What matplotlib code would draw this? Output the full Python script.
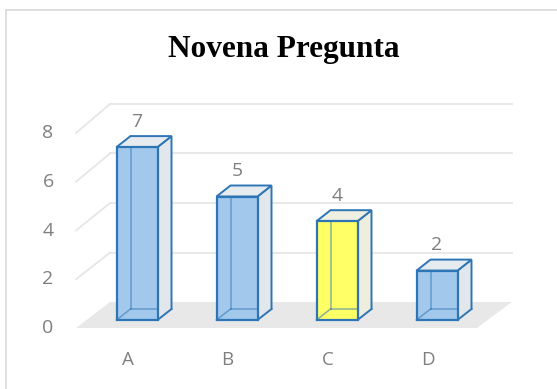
import matplotlib
matplotlib.use("Agg")
import matplotlib.pyplot as plt
from matplotlib.patches import Polygon
from matplotlib.lines import Line2D

categories = ["A", "B", "C", "D"]
values = [7, 5, 4, 2]
y_ticks = [0, 2, 4, 6, 8]
title = "Novena Pregunta"

W, H = 557, 389
fig = plt.figure(figsize=(W / 100, H / 100), dpi=100)
ax = fig.add_axes([0, 0, 1, 1])
ax.set_axis_off()

# pixel mapping: x_px = 137 + 100*i ; y_px(from top) = 320 - 24.7*v
PX_X, PX_Y = 100.0, 24.7
ax.set_xlim((0 - 137) / PX_X, (W - 137) / PX_X)
ax.set_ylim((320 - H) / PX_Y, 320 / PX_Y)

# chart frame (top and left)
fig.add_artist(Line2D([6 / W, 6 / W], [0, 1 - 10 / H], color="#D9D9D9", lw=1.2))
fig.add_artist(Line2D([6 / W, 1], [1 - 10 / H, 1 - 10 / H], color="#D9D9D9", lw=1.2))

# floor
f_front = -8 / PX_Y
f_back = 18 / PX_Y
xl_f, xr_f = (76 - 137) / PX_X, (477 - 137) / PX_X
xl_b, xr_b = (110 - 137) / PX_X, (512 - 137) / PX_X
ax.add_patch(Polygon([(xl_f, f_front), (xr_f, f_front), (xr_b, f_back), (xl_b, f_back)],
                     closed=True, facecolor="#E8E8E8", edgecolor="none", zorder=1))

# gridlines: back wall + left wall diagonals
front_step = (328 - 133) / 8 / PX_Y
back_step = (302 - 104) / 8 / PX_Y
for t in y_ticks:
    yb = f_back + t * back_step
    yf = f_front + t * front_step
    if t > 0:
        ax.plot([xl_b, xr_b], [yb, yb], color="#E6E6E6", lw=1.3, zorder=0.5)
        ax.plot([xl_f, xl_b], [yf, yb], color="#E6E6E6", lw=1.3, zorder=0.5)
    ax.text((48 - 137) / PX_X, yf, str(t), ha="center", va="center",
            fontsize=14, color="#7F7F7F", family="Open Sans")

# bars
half_w = 20.5 / PX_X
dx = 14 / PX_X
dy = 11 / PX_Y
edge = "#2E75B6"
for i, (cat, v) in enumerate(zip(categories, values)):
    highlight = cat == "C"
    front_c = "#FFFF66" if highlight else "#A2C8EC"
    side_c = "#EDEEDD" if highlight else "#E2E7EC"
    top_c = "#F0F0E2" if highlight else "#E6EBF0"
    x0, x1 = i - half_w, i + half_w
    y0, y1 = 0, v
    # hidden back edges
    ax.plot([x0 + dx, x0 + dx], [y0 + dy, y1 + dy], color=edge, lw=1.1, alpha=0.7, zorder=2)
    ax.plot([x0 + dx, x1 + dx], [y0 + dy, y0 + dy], color=edge, lw=1.1, alpha=0.7, zorder=2)
    ax.plot([x0, x0 + dx], [y0, y0 + dy], color=edge, lw=1.1, alpha=0.7, zorder=2)
    # side face
    ax.add_patch(Polygon([(x1, y0), (x1 + dx, y0 + dy), (x1 + dx, y1 + dy), (x1, y1)],
                         closed=True, facecolor=side_c, edgecolor=edge, lw=1.4, zorder=3))
    # top face
    ax.add_patch(Polygon([(x0, y1), (x1, y1), (x1 + dx, y1 + dy), (x0 + dx, y1 + dy)],
                         closed=True, facecolor=top_c, edgecolor=edge, lw=1.4, zorder=3))
    # front face
    ax.bar(i, v, width=2 * half_w, bottom=0, color=front_c, edgecolor=edge,
           linewidth=1.6, zorder=4)
    # see-through back edges over front face
    ax.plot([x0 + dx, x0 + dx], [y0 + dy, y1], color=edge, lw=1.1, alpha=0.55, zorder=5)
    ax.plot([x0 + dx, x1], [y0 + dy, y0 + dy], color=edge, lw=1.1, alpha=0.55, zorder=5)
    ax.plot([x0, x0 + dx], [y0, y0 + dy], color=edge, lw=1.1, alpha=0.55, zorder=5)
    # data label
    ax.text(i, v + dy + 0.22, str(v), ha="center", va="bottom",
            fontsize=14, color="#7F7F7F", family="Open Sans")
    # category label
    ax.text(i - 0.095, (320 - 360) / PX_Y, cat, ha="center", va="center",
            fontsize=13.5, color="#7F7F7F", family="Open Sans")

# title
ax.text((284 - 137) / PX_X, (320 - 49) / PX_Y, title, ha="center", va="center",
        fontsize=22.5, fontweight="bold", family="Liberation Serif", color="black")

fig.savefig("out.png", dpi=100)
